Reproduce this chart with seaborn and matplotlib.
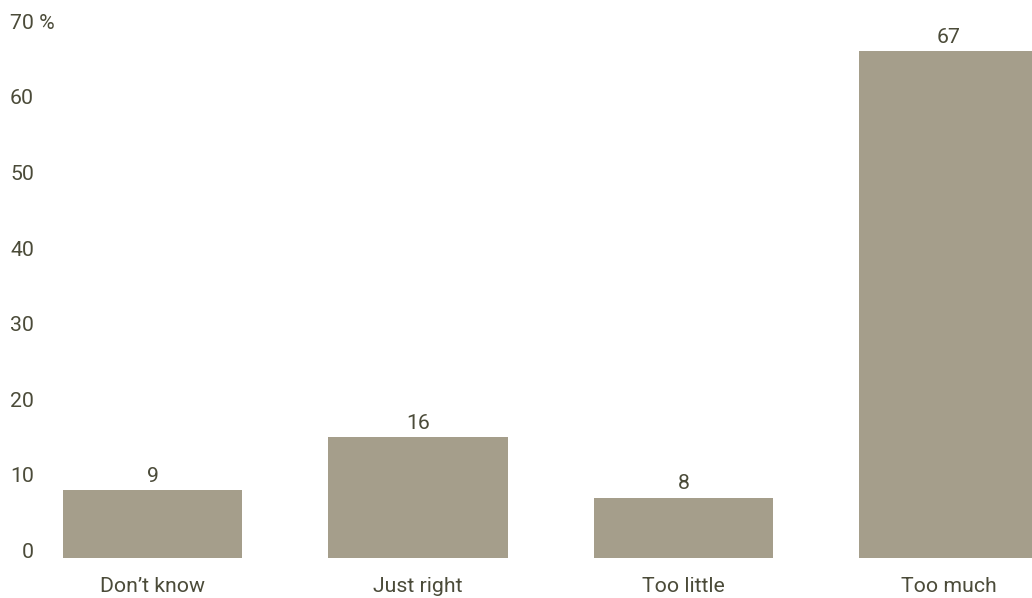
import matplotlib
matplotlib.use("Agg")
import matplotlib.pyplot as plt
import matplotlib.transforms as mtransforms
import seaborn as sns
import pandas as pd

categories = ["Don\u2019t know", "Just right", "Too little", "Too much"]
values = [9, 16, 8, 67]
value_labels = ["9", "16", "8", "67"]
ytick_values = [0, 10, 20, 30, 40, 50, 60, 70]
ytick_labels = ["0", "10", "20", "30", "40", "50", "60", "70 %"]

BAR = "#a59e8b"
TXT = "#4b4b39"
FS = 15.3

sns.set_theme(style="white")
plt.rcParams["font.family"] = ["Roboto", "DejaVu Sans"]

df = pd.DataFrame({"cat": categories, "val": values})

W, H, DPI = 1032, 598, 100
fig = plt.figure(figsize=(W / DPI, H / DPI), dpi=DPI)
# axes: bottom at pixel 558 (value 0), top at pixel 0
ax = fig.add_axes([0, (H - 558) / H, 1, 558 / H])
sns.barplot(data=df, x="cat", y="val", color=BAR, width=0.675, ax=ax,
            saturation=1, edgecolor="none")

px_per_cat = 265.5
left_cat = -152.5 / px_per_cat
right_cat = (W - 152.5) / px_per_cat
ax.set_xlim(left_cat, right_cat)
ax.set_ylim(0, 558 / 7.56)

for s in ax.spines.values():
    s.set_visible(False)
ax.set_xlabel("")
ax.set_ylabel("")

# y labels as text: numbers right-aligned at x=34px, "%" label hangs to the right
ax.set_yticks([])
trans = mtransforms.blended_transform_factory(ax.transAxes, ax.transData)
for v, lab in zip(ytick_values, ytick_labels):
    if "%" in lab:
        ax.text(10 / W, v, lab, transform=trans, ha="left", va="baseline",
                fontsize=FS, color=TXT)
    else:
        ax.text(34 / W, v, lab, transform=trans, ha="right", va="baseline",
                fontsize=FS, color=TXT)

ax.tick_params(axis="x", length=0, pad=34 * 0.72, labelsize=FS, labelcolor=TXT)
for lab in ax.get_xticklabels():
    lab.set_va("baseline")

for i, (v, t) in enumerate(zip(values, value_labels)):
    ax.annotate(t, (i, v), xytext=(0, 6), textcoords="offset points",
                ha="center", va="baseline", fontsize=FS, color=TXT)

fig.savefig("out.png", dpi=DPI)
